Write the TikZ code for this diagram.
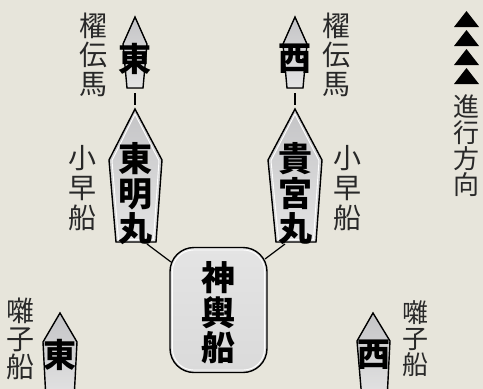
\documentclass[tikz,border=0pt]{standalone}
\usepackage{fontspec}
\newfontfamily\jp{Noto Sans CJK JP}
\usetikzlibrary{calc}
\definecolor{paper}{RGB}{231,229,219}
\definecolor{boattop}{RGB}{196,196,198}
\definecolor{boatbot}{RGB}{228,228,228}
\definecolor{lblc}{RGB}{40,40,40}
\tikzset{
  hull/.style={draw=black, line width=1.4pt, line join=miter, top color=boattop, bottom color=boatbot},
  innerline/.style={draw=white, line width=0.9pt},
  lbl/.style={inner sep=0pt, align=center, text=lblc, font=\jp\fontsize{28}{29}\selectfont},
  boatname/.style={inner sep=0pt, align=center, text=black, font=\jp\bfseries\fontsize{34}{35}\selectfont},
  smallname/.style={inner sep=0pt, text=black, font=\jp\bfseries\fontsize{33}{33}\selectfont},
  link/.style={draw=black, line width=1.2pt},
  tri/.style={fill=black}
}
\begin{document}
\begin{tikzpicture}[x=1pt,y=-1pt]
\fill[paper] (0,0) rectangle (483,389);
\useasboundingbox (0,0) rectangle (483,389);
\clip (0,0) rectangle (483,389);

% top small boats
\filldraw[hull] (135,17) -- (147,44) -- (143,88) -- (127,88) -- (123,44) -- cycle;
\filldraw[hull] (295,17) -- (307,44) -- (303,88) -- (287,88) -- (283,44) -- cycle;
\coordinate (tLb) at (135,88);
\coordinate (tRb) at (295,88);

% big boats
\filldraw[hull] (135,109) -- (162,160) -- (156,242) -- (116,242) -- (109,160) -- cycle;
\draw[innerline] (135,114) -- (159,160.5) -- (153.5,239.5) -- (118.5,239.5) -- (112,160.5) -- cycle;
\filldraw[hull] (295,109) -- (322,160) -- (316,242) -- (276,242) -- (268,160) -- cycle;
\draw[innerline] (295,114) -- (319,160.5) -- (313.5,239.5) -- (278.5,239.5) -- (271,160.5) -- cycle;
\coordinate (bLa) at (135,109);
\coordinate (bRa) at (295,109);
\coordinate (bLc) at (147,244);
\coordinate (bRc) at (285,244);

% bottom small boats
\filldraw[hull] (60,313) -- (77,342) -- (74,400) -- (46,400) -- (43,342) -- cycle;
\filldraw[hull] (373,313) -- (390,341) -- (387,400) -- (362,400) -- (357,341) -- cycle;

% central box
\node[draw=black, line width=1.4pt, rounded corners=24pt, minimum width=97pt, minimum height=125pt,
      top color=boatbot, bottom color=boatbot!90!gray, inner sep=0pt] (shin) at (218.5,310) {};
\draw[white, line width=0.9pt, rounded corners=21pt] (172.5,250) rectangle (264.5,370);
\coordinate (sL) at (171,262);
\coordinate (sR) at (265,259);

% connectors
\draw[link, shorten <=5pt, shorten >=4pt] (tLb) -- (bLa);
\draw[link, shorten <=5pt, shorten >=4pt] (tRb) -- (bRa);
\draw[link] (bLc) -- (sL);
\draw[link] (bRc) -- (sR);

% names
\node[smallname] (n1) at (135,59) {東};
\node[smallname] (n2) at (295,59) {西};
\node[boatname] (n3) at (135,194) {東\\明\\丸};
\node[boatname] (n4) at (295,194) {貴\\宮\\丸};
\node[boatname] (n5) at (218.5,313) {神\\輿\\船};
\node[smallname] (n6) at (60,355) {東};
\node[smallname] (n7) at (374,355) {西};

% labels
\node[lbl] (l1) at (93,55) {櫂\\伝\\馬};
\node[lbl] (l2) at (336,55) {櫂\\伝\\馬};
\node[lbl, font=\jp\fontsize{28}{30}\selectfont] (l3) at (82,188) {小\\早\\船};
\node[lbl, font=\jp\fontsize{28}{30}\selectfont] (l4) at (347,188) {小\\早\\船};
\node[lbl, font=\jp\fontsize{28}{28}\selectfont] (l5) at (20,339) {囃\\子\\船};
\node[lbl, font=\jp\fontsize{26}{26}\selectfont] (l6) at (415,339) {囃\\子\\船};
\node[lbl, font=\jp\fontsize{26}{26}\selectfont] (l7) at (466,146) {進\\行\\方\\向};

% direction triangles
\foreach \i in {0,1,2,3}{
  \fill[tri] (466.5,11+19*\i) -- (479,27+19*\i) -- (454,27+19*\i) -- cycle;
}
\end{tikzpicture}
\end{document}
